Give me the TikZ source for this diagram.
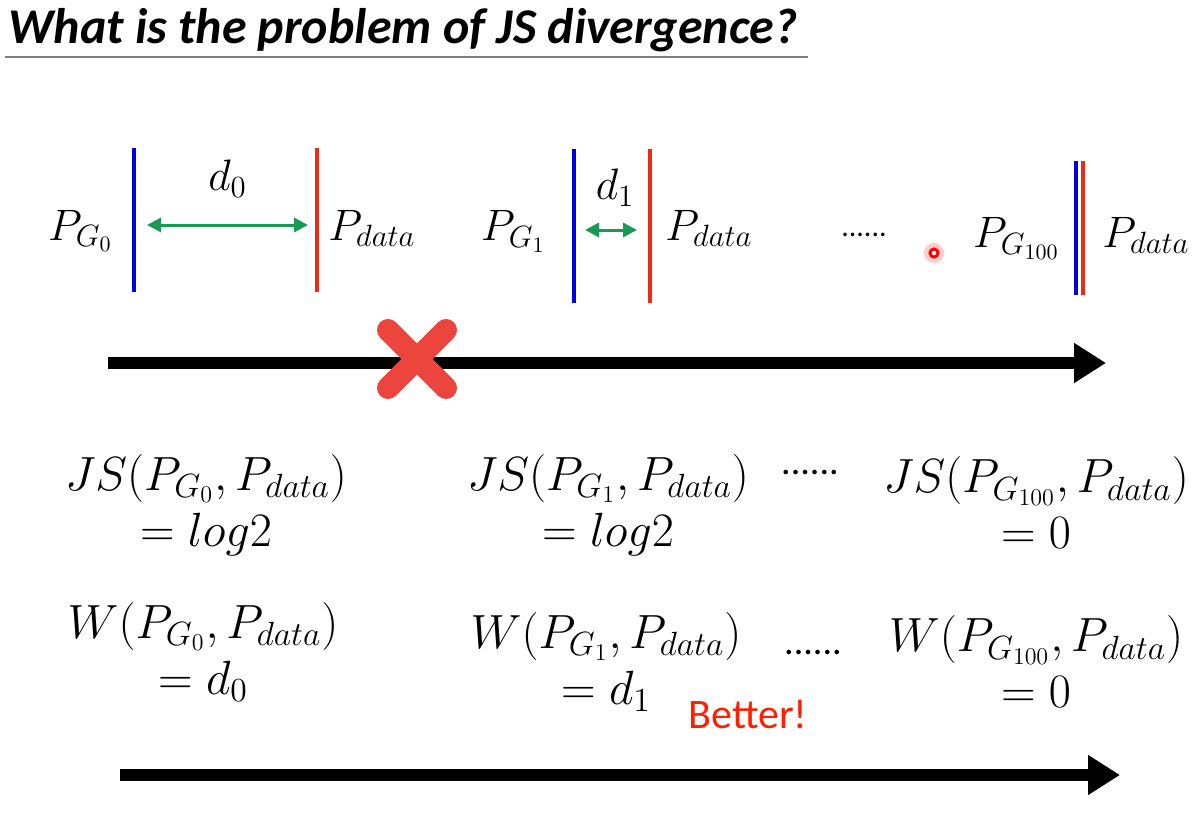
\documentclass[tikz,border=0pt]{standalone}
\usepackage{fix-cm}
\usepackage{amsmath}
\usepackage[no-math]{fontspec}
\newfontfamily\slidefont{Carlito}
\usetikzlibrary{arrows.meta, calc, positioning}
\definecolor{genblue}{rgb}{0.0, 0.0, 0.9}
\definecolor{datared}{rgb}{0.94, 0.16, 0.08}
\definecolor{gapgreen}{rgb}{0.1, 0.6, 0.32}
\definecolor{crossred}{rgb}{0.92, 0.27, 0.24}
\definecolor{betterred}{rgb}{1.0, 0.12, 0.0}

\begin{document}
\begin{tikzpicture}
			[x=0.5pt, y=-0.5pt,
			dist/.style={font=\fontsize{22}{24}\selectfont, inner sep=0pt, text=black},
			eq/.style={align=center, font=\fontsize{24}{28}\selectfont, inner sep=0pt},
			dots/.style={font=\slidefont\fontsize{15}{18}\selectfont, inner sep=0pt},
			gen/.style={genblue, line width=2pt},
			real/.style={datared, line width=2pt},
			gap/.style={gapgreen, line width=1.5pt, {Triangle[length=7pt, width=7pt]}-{Triangle[length=7pt, width=7pt]}},
			timeline/.style={line width=6pt, -{Triangle[length=16pt, width=19pt]}}]
			\useasboundingbox (0,0) rectangle (1200,813);
			
			% title
			\node[anchor=base west, inner sep=0pt, font=\slidefont\bfseries\itshape\fontsize{25}{30}\selectfont] (title) at (8,44) {What is the problem of JS divergence?};
			\coordinate (ul1) at (5,57);
			\coordinate (ul2) at (808,57);
			\draw[gray, line width=1pt] (ul1) -- (ul2);
			
			% distributions
			\coordinate (b0t) at (134,148); \coordinate (b0b) at (134,292);
			\coordinate (r0t) at (317,148); \coordinate (r0b) at (317,292);
			\coordinate (b1t) at (574,149); \coordinate (b1b) at (574,303);
			\coordinate (r1t) at (650,149); \coordinate (r1b) at (650,303);
			\coordinate (b2t) at (1076,161); \coordinate (b2b) at (1076,295);
			\coordinate (r2t) at (1083,161); \coordinate (r2b) at (1083,295);
			\draw[gen] (b0t) -- (b0b);
			\draw[real] (r0t) -- (r0b);
			\draw[gen] (b1t) -- (b1b);
			\draw[real] (r1t) -- (r1b);
			\draw[gen] (b2t) -- (b2b);
			\draw[real] (r2t) -- (r2b);
			
			\node[dist, anchor=base east] (pg0) at (113,240) {$P_{G_0}$};
			\node[dist, anchor=base west] (pd0) at (328,240) {$P_{data}$};
			\node[dist, anchor=base east] (pg1) at (546,241) {$P_{G_1}$};
			\node[dist, anchor=base west] (pd1) at (665,240) {$P_{data}$};
			\node[dist, anchor=base east] (pg2) at (1060,248) {$P_{G_{100}}$};
			\node[dist, anchor=base west] (pd2) at (1102,247) {$P_{data}$};
			
			\coordinate (a0l) at (147,225); \coordinate (a0r) at (308,225);
			\coordinate (a1l) at (585,230); \coordinate (a1r) at (637,230);
			\draw[gap] (a0l) -- node[dist, above=13pt]{$d_0$} (a0r);
			\draw[gap] (a1l) -- node[dist, above=11pt, xshift=2pt]{$d_1$} (a1r);
			
			\node[dots] (td) at (864,235) {......};
			
			% laser pointer
			\fill[red!20] (934,253) circle (5pt);
			\draw[red, line width=1.5pt, fill=white] (934,253) circle (2pt);
			
			% upper time axis
			\coordinate (t0) at (108,363);
			\coordinate (t1) at (1106,363);
			\draw[timeline] (t0) -- (t1);
			
			% cross
			\draw[crossred, line width=11pt, line cap=round] (388,330) -- (446,388);
			\draw[crossred, line width=11pt, line cap=round] (446,330) -- (388,388);
			
			% divergences
			\node[eq] (js0) at (206,505) {$JS(P_{G_0},P_{data})$\\$=log2$};
			\node[eq] (js1) at (608,505) {$JS(P_{G_1},P_{data})$\\$=log2$};
			\node[eq] (js2) at (1036,503) {$JS(P_{G_{100}},P_{data})$\\$=0$};
			\node[dots, font=\slidefont\fontsize{19}{20}\selectfont] (jd) at (810,472) {......};
			
			\node[eq] (w0) at (203,652) {$W(P_{G_0},P_{data})$\\$=d_0$};
			\node[eq] (w1) at (606,662) {$W(P_{G_1},P_{data})$\\$=d_1$};
			\node[eq] (w2) at (1036,662) {$W(P_{G_{100}},P_{data})$\\$=0$};
			\node[dots, font=\slidefont\fontsize{19}{20}\selectfont] (wd) at (813,652) {......};
			
			\node[font=\slidefont\fontsize{21}{24}\selectfont, text=betterred, inner sep=0pt] (better) at (748,714) {Better!};
			
			% lower time axis
			\coordinate (s0) at (120,775);
			\coordinate (s1) at (1120,775);
			\draw[timeline] (s0) -- (s1);
			\end{tikzpicture}
\end{document}
